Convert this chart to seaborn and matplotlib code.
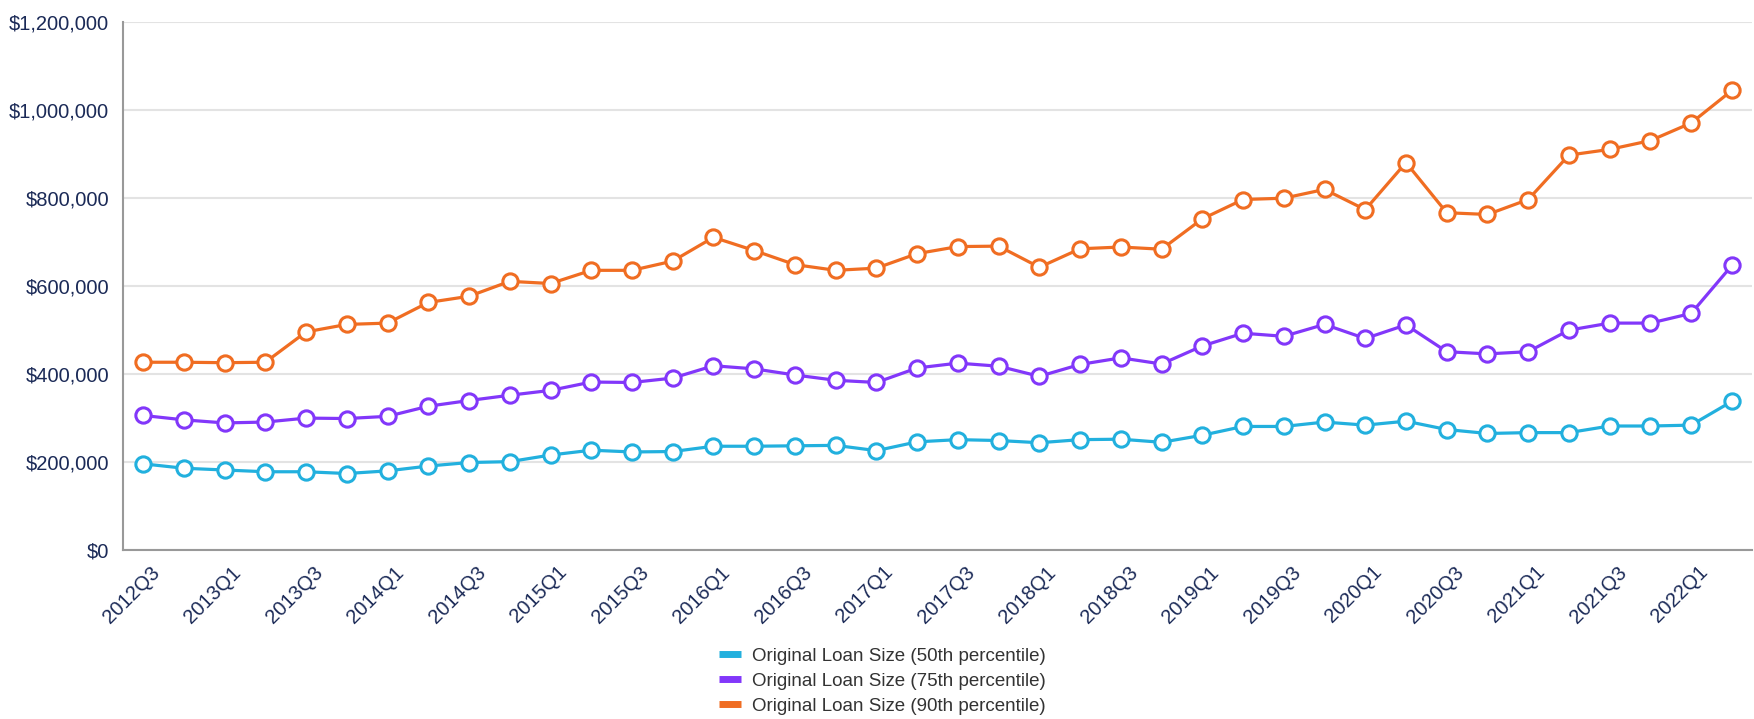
import numpy as np
import pandas as pd
import seaborn as sns
import matplotlib.pyplot as plt
import matplotlib.transforms as mtransforms
from matplotlib.lines import Line2D
from matplotlib.ticker import FuncFormatter

# quarters shown on the x axis
quarters = ['2012Q3', '2012Q4', '2013Q1', '2013Q2', '2013Q3', '2013Q4',
            '2014Q1', '2014Q2', '2014Q3', '2014Q4', '2015Q1', '2015Q2',
            '2015Q3', '2015Q4', '2016Q1', '2016Q2', '2016Q3', '2016Q4',
            '2017Q1', '2017Q2', '2017Q3', '2017Q4', '2018Q1', '2018Q2',
            '2018Q3', '2018Q4', '2019Q1', '2019Q2', '2019Q3', '2019Q4',
            '2020Q1', '2020Q2', '2020Q3', '2020Q4', '2021Q1', '2021Q2',
            '2021Q3', '2021Q4', '2022Q1', '2022Q2']

# loan sizes in thousands of dollars
p50 = [196, 186, 182, 178, 178, 174, 180, 191, 199, 201, 216, 227,
       223, 224, 236, 236, 237, 238, 226, 246, 251, 249, 244, 251,
       252, 245, 261, 281, 281, 291, 284, 293, 274, 265, 267, 267,
       282, 282, 284, 338]
p75 = [306, 296, 289, 291, 300, 299, 304, 327, 340, 352, 363, 382,
       381, 391, 419, 412, 398, 386, 381, 414, 425, 418, 395, 422,
       437, 423, 464, 493, 486, 513, 481, 512, 451, 446, 451, 500,
       516, 516, 538, 647]
p90 = [427, 427, 426, 427, 496, 513, 516, 563, 577, 611, 606, 636,
       636, 657, 711, 681, 649, 636, 641, 674, 690, 691, 643, 685,
       689, 684, 753, 797, 800, 820, 774, 881, 767, 763, 797, 898,
       911, 931, 971, 1045]

series_names = ['Original Loan Size (50th percentile)',
                'Original Loan Size (75th percentile)',
                'Original Loan Size (90th percentile)']
colors = ['#22B0DE', '#8237FA', '#F06D22']

navy = '#1B2A57'

rows = []
for name, vals in zip(series_names, [p50, p75, p90]):
    for i, v in enumerate(vals):
        rows.append({'idx': i, 'quarter': quarters[i], 'value': v * 1000, 'series': name})
df = pd.DataFrame(rows)

sns.set_style('white')
plt.rcParams['font.family'] = ['Liberation Sans', 'DejaVu Sans']

fig, ax = plt.subplots(figsize=(17.54, 7.19), dpi=100)
fig.subplots_adjust(left=0.070, right=0.999, top=0.969, bottom=0.235)

sns.lineplot(data=df, x='idx', y='value', hue='series', hue_order=series_names,
             palette=colors, marker='o', markersize=11, linewidth=2.3,
             sort=False, legend=False, ax=ax)

for line, c in zip(ax.lines, colors):
    line.set_markerfacecolor('white')
    line.set_markeredgecolor(c)
    line.set_markeredgewidth(2.2)
    line.set_zorder(3)

ax.set_xlim(-0.5, len(quarters) - 0.5)
ax.set_ylim(0, 1200000)
ax.set_yticks(np.arange(0, 1200001, 200000))
ax.yaxis.set_major_formatter(FuncFormatter(lambda v, p: '${:,.0f}'.format(v)))

# labels every second quarter, tick marks between categories
ax.set_xticks(range(0, len(quarters), 2))
ax.set_xticklabels(quarters[::2], rotation=45, ha='right', rotation_mode='anchor')
ax.set_xticks(np.arange(-0.5, len(quarters), 1), minor=True)
ax.tick_params(axis='x', which='major', length=0, pad=9, labelsize=14.5, labelcolor=navy)
ax.tick_params(axis='x', which='minor', length=8, width=1.2, color='#999999')
ax.tick_params(axis='y', length=6, width=1.2, color='#999999', labelsize=14.5,
               labelcolor=navy, pad=4)

# nudge rotated labels a little to the right, like the original
shift = mtransforms.ScaledTranslation(7 / 100, 0, fig.dpi_scale_trans)
for lab in ax.get_xticklabels():
    lab.set_transform(lab.get_transform() + shift)

ax.grid(axis='y', color='#E3E3E3', linewidth=1.5)
ax.grid(axis='x', visible=False)
ax.set_axisbelow(True)
for s in ['top', 'right']:
    ax.spines[s].set_visible(False)
for s in ['left', 'bottom']:
    ax.spines[s].set_color('#999999')
    ax.spines[s].set_linewidth(1.5)
ax.set_xlabel('')
ax.set_ylabel('')

handles = [Line2D([0], [0], color=c, lw=5, solid_capstyle='butt') for c in colors]
fig.legend(handles, series_names, loc='upper center', bbox_to_anchor=(0.503, 0.112),
           frameon=False, fontsize=13.5, labelcolor='#333333', handlelength=1.2,
           handletextpad=0.6, labelspacing=0.42, borderpad=0)

fig.savefig('out.png', dpi=100)
